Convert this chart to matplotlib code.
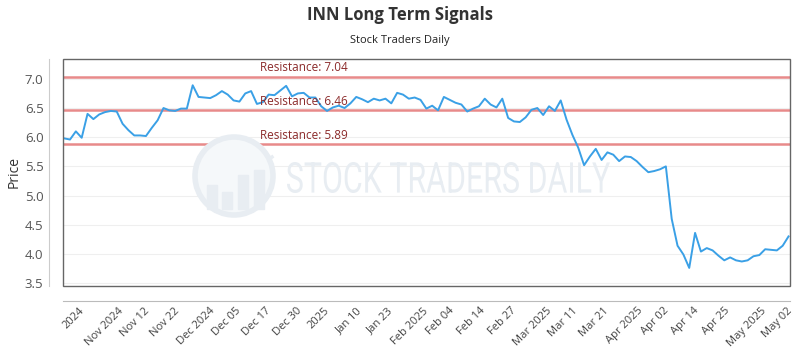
import numpy as np
import matplotlib
matplotlib.use('Agg')
import matplotlib.pyplot as plt
from matplotlib.patches import Rectangle, Ellipse, PathPatch
from matplotlib.textpath import TextPath
from matplotlib.font_manager import FontProperties
from matplotlib import transforms

plt.rcParams['font.family'] = ['Open Sans', 'DejaVu Sans']

# --- data ---
prices = [
    5.98, 5.96, 6.10, 5.99, 6.40, 6.31, 6.39, 6.43, 6.45, 6.44,
    6.23, 6.12, 6.03, 6.03, 6.02, 6.16, 6.29, 6.50, 6.46, 6.45,
    6.49, 6.49, 6.89, 6.69, 6.68, 6.67, 6.72, 6.79, 6.73, 6.63,
    6.61, 6.75, 6.79, 6.57, 6.60, 6.73, 6.72, 6.80, 6.88, 6.70,
    6.75, 6.76, 6.68, 6.68, 6.53, 6.45, 6.51, 6.54, 6.50, 6.58,
    6.69, 6.65, 6.60, 6.66, 6.63, 6.66, 6.58, 6.76, 6.73, 6.66,
    6.68, 6.64, 6.49, 6.54, 6.46, 6.69, 6.64, 6.59, 6.56, 6.44,
    6.49, 6.53, 6.66, 6.56, 6.51, 6.66, 6.33, 6.27, 6.26, 6.34,
    6.47, 6.50, 6.38, 6.53, 6.45, 6.63, 6.30, 6.04, 5.82, 5.52,
    5.67, 5.80, 5.61, 5.74, 5.70, 5.59, 5.67, 5.66, 5.59, 5.49,
    5.40, 5.42, 5.45, 5.50, 4.60, 4.14, 3.99, 3.76, 4.36, 4.04,
    4.10, 4.06, 3.97, 3.89, 3.94, 3.89, 3.87, 3.89, 3.96, 3.98,
    4.08, 4.07, 4.06, 4.14, 4.30,
]
resistances = [7.04, 6.46, 5.89]
tick_labels = ['2024', 'Nov 2024', 'Nov 12', 'Nov 22', 'Dec 2024', 'Dec 05',
               'Dec 17', 'Dec 30', '2025', 'Jan 10', 'Jan 23', 'Feb 2025',
               'Feb 04', 'Feb 14', 'Feb 27', 'Mar 2025', 'Mar 11', 'Mar 21',
               'Apr 2025', 'Apr 02', 'Apr 14', 'Apr 25', 'May 2025', 'May 02']

W, H = 800, 350
fig = plt.figure(figsize=(W / 100, H / 100), dpi=100)
ax = fig.add_axes([63 / W, 1 - 286 / H, 727 / W, 227 / H])

# watermark logo + text (behind everything)
wm = '#e8edf2'
fig.patches.append(Ellipse((234 / W, 1 - 176 / H), 78 / W, 78 / H,
                           transform=fig.transFigure, facecolor='#f5f8fa',
                           edgecolor=wm, lw=4, zorder=0))
for bx, btop in [(207, 185), (222, 192), (238, 175), (254, 170)]:
    fig.patches.append(Rectangle((bx / W, 1 - 209 / H), 10 / W, (209 - btop) / H,
                                 transform=fig.transFigure, color=wm, zorder=0))
fig.lines.append(plt.Line2D(np.array([200, 216, 232, 250, 262, 272]) / W,
                            1 - np.array([176, 168, 161, 153, 163, 157]) / H,
                            transform=fig.transFigure, color=wm, lw=2.5, zorder=0))

tp = TextPath((0, 0), 'STOCK TRADERS DAILY', size=10,
              prop=FontProperties(family='Roboto', weight='normal'))
ext = tp.get_extents()
tx0, tx1, ty_top, ty_bot = 287, 610, 162, 193
tr = (transforms.Affine2D()
      .translate(-ext.x0, -ext.y0)
      .scale((tx1 - tx0) / W / ext.width, (ty_bot - ty_top) / H / ext.height)
      .translate(tx0 / W, 1 - ty_bot / H)) + fig.transFigure
fig.patches.append(PathPatch(tp, transform=tr, facecolor=wm, edgecolor='none', zorder=0))

x = np.arange(len(prices))
ax.set_facecolor('none')
ax.plot(x, prices, color='#3aa0e6', lw=1.4, zorder=4)

for r in resistances:
    ax.axhline(r, color='#e88a8a', lw=1.8, zorder=3)
    ax.text(33.6, r + 0.035, f'Resistance: {r:.2f}', color='#8b2a2a',
            fontsize=8.5, va='bottom', ha='left', zorder=5)

ax.set_xlim(-0.2, 124.25)
ax.set_ylim(3.45, 7.34)
yt = np.arange(3.5, 7.01, 0.5)
ax.set_yticks(yt)
ax.set_yticklabels([f'{v:.1f}' for v in yt])
ax.grid(axis='y', color='#efefef', lw=0.8, zorder=1)
ax.set_axisbelow(True)

ax.set_xticks(np.linspace(1.6, 122.1, len(tick_labels)))
ax.set_xticklabels(tick_labels)
ax.tick_params(axis='x', length=0, pad=3, labelsize=8, labelcolor='#444444',
               labelrotation=45)
plt.setp(ax.get_xticklabels(), ha='right', rotation_mode='default')
ax.tick_params(axis='y', length=0, pad=4, labelsize=9.5, labelcolor='#555555')

for s in ['top', 'right']:
    ax.spines[s].set_visible(False)
ax.spines['left'].set_position(('outward', 10))
ax.spines['bottom'].set_position(('outward', 11))
ax.spines['left'].set_color('#cccccc')
ax.spines['bottom'].set_color('#bbbbbb')

ax.add_patch(Rectangle((0, 0), 1, 1, transform=ax.transAxes, fill=False,
                       edgecolor='#666666', lw=1, clip_on=False, zorder=6))

ax.set_ylabel('Price', fontsize=10, color='#333333')
ax.yaxis.set_label_coords((22 - 63) / 727, 0.5)

fig.text(0.5, 1 - 15 / H, 'INN Long Term Signals', ha='center', va='center',
         fontsize=12, fontweight='bold', color='#333333')
fig.text(0.5, 1 - 40 / H, 'Stock Traders Daily', ha='center', va='center',
         fontsize=8, color='#222222')

fig.savefig('out.png', dpi=100)
